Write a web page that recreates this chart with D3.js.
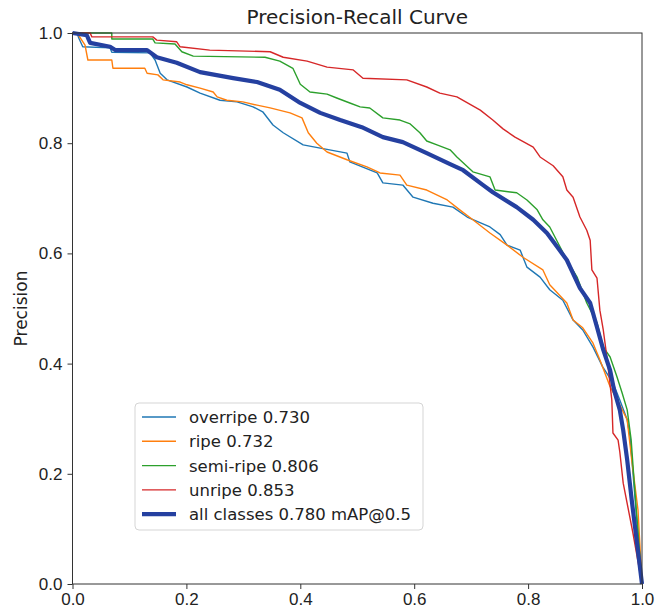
<!DOCTYPE html>
<html>
<head>
<meta charset="utf-8">
<script src="https://cdn.jsdelivr.net/npm/d3@7"></script>
<style>
  body { margin: 0; background: #fff; }
  svg { display: block; font-family: "DejaVu Sans", sans-serif; }
</style>
</head>
<body>
<div id="chart"></div>
<script>
// Recall / precision points, one pair of arrays per class
var overripeR = [0, 0.008, 0.011, 0.018, 0.066, 0.069, 0.136, 0.145, 0.154, 0.166, 0.201, 0.224, 0.259, 0.289, 0.317, 0.334, 0.352, 0.370, 0.405, 0.435, 0.482, 0.487, 0.535, 0.545, 0.580, 0.598, 0.633, 0.668, 0.693, 0.733, 0.751, 0.763, 0.786, 0.798, 0.821, 0.838, 0.861, 0.879, 0.896, 0.914, 0.931, 0.949, 0.961, 0.974, 0.979, 1.0];
var overripeP = [1.0, 1.0, 0.991, 0.975, 0.973, 0.965, 0.964, 0.951, 0.927, 0.915, 0.902, 0.891, 0.878, 0.875, 0.866, 0.857, 0.833, 0.819, 0.797, 0.791, 0.782, 0.766, 0.746, 0.728, 0.724, 0.702, 0.691, 0.684, 0.666, 0.648, 0.634, 0.615, 0.606, 0.575, 0.557, 0.534, 0.515, 0.479, 0.461, 0.430, 0.394, 0.365, 0.334, 0.298, 0.267, 0.0];

var ripeR = [0, 0.008, 0.022, 0.027, 0.069, 0.071, 0.127, 0.131, 0.150, 0.159, 0.189, 0.201, 0.224, 0.247, 0.254, 0.271, 0.299, 0.324, 0.347, 0.382, 0.403, 0.414, 0.429, 0.447, 0.482, 0.517, 0.540, 0.575, 0.587, 0.622, 0.658, 0.680, 0.703, 0.733, 0.763, 0.791, 0.826, 0.838, 0.868, 0.879, 0.896, 0.914, 0.926, 0.944, 0.961, 0.974, 0.982, 0.993, 1.0];
var ripeP = [1.0, 1.0, 0.978, 0.951, 0.951, 0.936, 0.936, 0.927, 0.924, 0.915, 0.911, 0.906, 0.900, 0.893, 0.884, 0.878, 0.875, 0.869, 0.864, 0.855, 0.846, 0.819, 0.800, 0.784, 0.770, 0.757, 0.746, 0.742, 0.724, 0.715, 0.697, 0.679, 0.661, 0.637, 0.615, 0.593, 0.570, 0.543, 0.510, 0.479, 0.465, 0.437, 0.407, 0.358, 0.325, 0.298, 0.225, 0.134, 0.0];

var semiR = [0, 0.069, 0.069, 0.141, 0.145, 0.180, 0.192, 0.212, 0.338, 0.364, 0.387, 0.400, 0.417, 0.447, 0.464, 0.487, 0.505, 0.522, 0.545, 0.575, 0.593, 0.610, 0.622, 0.640, 0.663, 0.675, 0.703, 0.733, 0.742, 0.780, 0.798, 0.816, 0.826, 0.838, 0.856, 0.868, 0.886, 0.903, 0.921, 0.932, 0.944, 0.956, 0.965, 0.974, 0.981, 0.986, 1.0];
var semiP = [1.0, 1.0, 0.989, 0.989, 0.982, 0.980, 0.966, 0.958, 0.956, 0.949, 0.936, 0.907, 0.893, 0.889, 0.882, 0.873, 0.866, 0.864, 0.846, 0.842, 0.835, 0.819, 0.804, 0.797, 0.788, 0.775, 0.748, 0.739, 0.715, 0.710, 0.697, 0.679, 0.661, 0.648, 0.612, 0.588, 0.557, 0.510, 0.474, 0.430, 0.412, 0.376, 0.347, 0.316, 0.261, 0.189, 0.0];

var unripeR = [0, 0.031, 0.034, 0.141, 0.148, 0.183, 0.189, 0.241, 0.347, 0.370, 0.412, 0.447, 0.493, 0.510, 0.587, 0.622, 0.645, 0.675, 0.716, 0.738, 0.756, 0.777, 0.809, 0.821, 0.844, 0.861, 0.868, 0.879, 0.891, 0.903, 0.909, 0.912, 0.921, 0.926, 0.932, 0.939, 0.947, 0.949, 0.958, 0.961, 0.967, 0.984, 1.0];
var unripeP = [1.0, 1.0, 0.993, 0.993, 0.987, 0.984, 0.975, 0.969, 0.966, 0.956, 0.949, 0.938, 0.933, 0.918, 0.915, 0.902, 0.891, 0.884, 0.860, 0.842, 0.826, 0.811, 0.793, 0.775, 0.759, 0.739, 0.715, 0.702, 0.666, 0.642, 0.624, 0.570, 0.555, 0.497, 0.461, 0.407, 0.334, 0.274, 0.261, 0.240, 0.183, 0.093, 0.0];

var allR = [0, 0.025, 0.031, 0.066, 0.075, 0.131, 0.148, 0.183, 0.224, 0.282, 0.324, 0.364, 0.400, 0.435, 0.470, 0.508, 0.545, 0.580, 0.622, 0.663, 0.686, 0.721, 0.738, 0.780, 0.809, 0.833, 0.851, 0.868, 0.891, 0.909, 0.921, 0.932, 0.944, 0.951, 0.961, 0.967, 0.974, 0.982, 1.0];
var allP = [1.0, 0.996, 0.982, 0.975, 0.969, 0.969, 0.956, 0.946, 0.929, 0.918, 0.911, 0.897, 0.873, 0.855, 0.842, 0.829, 0.811, 0.802, 0.782, 0.762, 0.751, 0.724, 0.711, 0.684, 0.661, 0.637, 0.612, 0.588, 0.537, 0.510, 0.466, 0.425, 0.388, 0.352, 0.316, 0.279, 0.225, 0.152, 0.0];

var classNames = ["overripe 0.730", "ripe 0.732", "semi-ripe 0.806", "unripe 0.853", "all classes 0.780 mAP@0.5"];
var tickValues = [0, 0.2, 0.4, 0.6, 0.8, 1.0];

var series = [
    {name: classNames[0], r: overripeR, p: overripeP, color: "#1f77b4", width: 1.4},
    {name: classNames[1], r: ripeR, p: ripeP, color: "#ff7f0e", width: 1.4},
    {name: classNames[2], r: semiR, p: semiP, color: "#2ca02c", width: 1.4},
    {name: classNames[3], r: unripeR, p: unripeP, color: "#d62728", width: 1.4},
    {name: classNames[4], r: allR, p: allP, color: "#2540a0", width: 4.2}
];

var W = 658, H = 613;
var margin = {top: 33, right: 16, bottom: 29, left: 72.5};
var w = W - margin.left - margin.right;
var h = H - margin.top - margin.bottom;

var svg = d3.select("#chart").append("svg")
    .attr("width", W)
    .attr("height", H);

var g = svg.append("g")
    .attr("transform", "translate(" + margin.left + "," + margin.top + ")");

var x = d3.scaleLinear().domain([0, 1]).range([0, w]);
var y = d3.scaleLinear().domain([0, 1]).range([h, 0]);

// curves
var line = d3.line()
    .x(function(d) { return x(d[0]); })
    .y(function(d) { return y(d[1]); });

series.forEach(function(s) {
    var pts = d3.zip(s.r, s.p);
    g.append("path")
        .datum(pts)
        .attr("fill", "none")
        .attr("stroke", s.color)
        .attr("stroke-width", s.width)
        .attr("stroke-linejoin", "round")
        .attr("d", line);
});

// axes
var xAxis = d3.axisBottom(x).tickValues(tickValues).tickFormat(d3.format(".1f")).tickSize(5).tickPadding(3.5);
var yAxis = d3.axisLeft(y).tickValues(tickValues).tickFormat(d3.format(".1f")).tickSize(5).tickPadding(5);

var gx = g.append("g").attr("transform", "translate(0," + h + ")").call(xAxis);
var gy = g.append("g").call(yAxis);
[gx, gy].forEach(function(a) {
    a.select(".domain").remove();
    a.selectAll("line").attr("stroke", "#333");
    a.selectAll("text").attr("fill", "#222").style("font-size", "17px");
});

// frame
g.append("rect")
    .attr("width", w).attr("height", h)
    .attr("fill", "none")
    .attr("stroke", "#333")
    .attr("stroke-width", 1);

// title and axis label
svg.append("text")
    .attr("x", margin.left + w / 2)
    .attr("y", 24)
    .attr("text-anchor", "middle")
    .style("font-size", "20px")
    .attr("fill", "#222")
    .text("Precision-Recall Curve");

svg.append("text")
    .attr("transform", "translate(27," + (margin.top + h / 2) + ") rotate(-90)")
    .attr("text-anchor", "middle")
    .style("font-size", "17px")
    .attr("fill", "#222")
    .text("Precision");

// legend
var legend = svg.append("g").attr("transform", "translate(135,403)");
legend.append("rect")
    .attr("width", 288).attr("height", 127)
    .attr("rx", 4)
    .attr("fill", "#fff")
    .attr("fill-opacity", 0.85)
    .attr("stroke", "#d5d5d5");

series.forEach(function(s, i) {
    var ly = 14 + i * 24.3;
    legend.append("line")
        .attr("x1", 7).attr("x2", 41)
        .attr("y1", ly).attr("y2", ly)
        .attr("stroke", s.color)
        .attr("stroke-width", s.width);
    legend.append("text")
        .attr("x", 54).attr("y", ly + 6)
        .style("font-size", "16.5px")
        .attr("fill", "#222")
        .text(s.name);
});
</script>
</body>
</html>
